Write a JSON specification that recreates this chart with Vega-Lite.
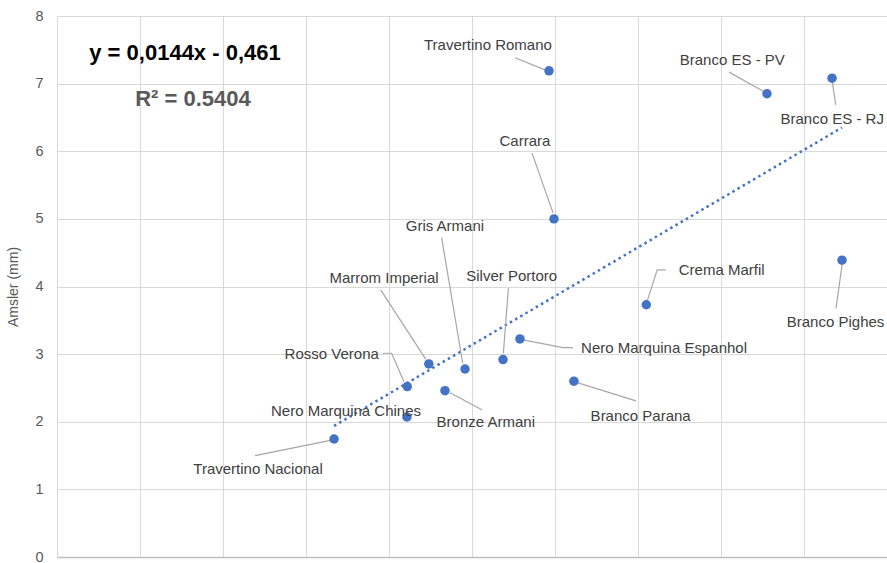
{
  "$schema": "https://vega.github.io/schema/vega-lite/v6.json",
  "width": 830,
  "height": 541,
  "autosize": "none",
  "padding": {"left": 57, "top": 16, "right": 0, "bottom": 6},
  "background": "white",
  "config": {"view": {"stroke": null}},
  "datasets": {
    "pts": [
      {"name": "Travertino Nacional", "x": 166.9, "y": 1.745},
      {"name": "Nero Marquina Chines", "x": 210.8, "y": 2.07},
      {"name": "Rosso Verona", "x": 211.0, "y": 2.52},
      {"name": "Marrom Imperial", "x": 224.0, "y": 2.855},
      {"name": "Bronze Armani", "x": 233.7, "y": 2.46},
      {"name": "Gris Armani", "x": 245.8, "y": 2.78},
      {"name": "Silver Portoro", "x": 268.7, "y": 2.92},
      {"name": "Nero Marquina Espanhol", "x": 278.9, "y": 3.225},
      {"name": "Branco Parana", "x": 311.4, "y": 2.6},
      {"name": "Carrara", "x": 299.4, "y": 5.0},
      {"name": "Travertino Romano", "x": 296.4, "y": 7.19},
      {"name": "Crema Marfil", "x": 355.0, "y": 3.73},
      {"name": "Branco ES - PV", "x": 427.7, "y": 6.85},
      {"name": "Branco ES - RJ", "x": 466.9, "y": 7.08},
      {"name": "Branco Pighes", "x": 472.9, "y": 4.39}
    ],
    "labels": [
      {"name": "Travertino Nacional", "x": 121.1, "y": 1.302},
      {"name": "Nero Marquina Chines", "x": 174.1, "y": 2.16},
      {"name": "Rosso Verona", "x": 165.5, "y": 3.003},
      {"name": "Marrom Imperial", "x": 197.0, "y": 4.127},
      {"name": "Bronze Armani", "x": 258.3, "y": 1.993},
      {"name": "Gris Armani", "x": 233.7, "y": 4.901},
      {"name": "Silver Portoro", "x": 273.9, "y": 4.157},
      {"name": "Nero Marquina Espanhol", "x": 365.7, "y": 3.092},
      {"name": "Branco Parana", "x": 351.6, "y": 2.09},
      {"name": "Carrara", "x": 281.9, "y": 6.154},
      {"name": "Travertino Romano", "x": 259.6, "y": 7.574},
      {"name": "Crema Marfil", "x": 400.4, "y": 4.246},
      {"name": "Branco ES - PV", "x": 406.8, "y": 7.342},
      {"name": "Branco ES - RJ", "x": 467.0, "y": 6.479},
      {"name": "Branco Pighes", "x": 469.0, "y": 3.472}
    ],
    "leaders": [
      {"name": "Travertino Nacional", "ord": 1, "x": 166.3, "y": 1.731},
      {"name": "Travertino Nacional", "ord": 2, "x": 119.3, "y": 1.499},
      {"name": "Rosso Verona", "ord": 1, "x": 196.2, "y": 3.013},
      {"name": "Rosso Verona", "ord": 2, "x": 201.6, "y": 3.013},
      {"name": "Rosso Verona", "ord": 3, "x": 209.0, "y": 2.593},
      {"name": "Marrom Imperial", "ord": 1, "x": 195.0, "y": 3.95},
      {"name": "Marrom Imperial", "ord": 2, "x": 222.1, "y": 2.925},
      {"name": "Gris Armani", "ord": 1, "x": 231.7, "y": 4.723},
      {"name": "Gris Armani", "ord": 2, "x": 244.4, "y": 2.865},
      {"name": "Silver Portoro", "ord": 1, "x": 271.9, "y": 3.975},
      {"name": "Silver Portoro", "ord": 2, "x": 268.9, "y": 3.013},
      {"name": "Nero Marquina Espanhol", "ord": 1, "x": 280.7, "y": 3.21},
      {"name": "Nero Marquina Espanhol", "ord": 2, "x": 304.8, "y": 3.096},
      {"name": "Nero Marquina Espanhol", "ord": 3, "x": 310.8, "y": 3.096},
      {"name": "Bronze Armani", "ord": 1, "x": 236.7, "y": 2.43},
      {"name": "Bronze Armani", "ord": 2, "x": 256.2, "y": 2.175},
      {"name": "Branco Parana", "ord": 1, "x": 313.9, "y": 2.574},
      {"name": "Branco Parana", "ord": 2, "x": 348.8, "y": 2.308},
      {"name": "Carrara", "ord": 1, "x": 286.1, "y": 5.976},
      {"name": "Carrara", "ord": 2, "x": 298.8, "y": 5.089},
      {"name": "Travertino Romano", "ord": 1, "x": 275.9, "y": 7.382},
      {"name": "Travertino Romano", "ord": 2, "x": 294.0, "y": 7.204},
      {"name": "Crema Marfil", "ord": 1, "x": 366.7, "y": 4.246},
      {"name": "Crema Marfil", "ord": 2, "x": 361.6, "y": 4.246},
      {"name": "Crema Marfil", "ord": 3, "x": 355.6, "y": 3.791},
      {"name": "Branco ES - PV", "ord": 1, "x": 404.8, "y": 7.17},
      {"name": "Branco ES - PV", "ord": 2, "x": 426.5, "y": 6.874},
      {"name": "Branco ES - RJ", "ord": 1, "x": 466.9, "y": 7.056},
      {"name": "Branco ES - RJ", "ord": 2, "x": 469.1, "y": 6.686},
      {"name": "Branco Pighes", "ord": 1, "x": 473.2, "y": 4.368},
      {"name": "Branco Pighes", "ord": 2, "x": 469.3, "y": 3.679}
    ],
    "eq": [
      {"text": "y = 0,0144x - 0,461", "x": 77.1, "y": 7.456, "kind": "eq"},
      {"text": "R² = 0.5404", "x": 81.9, "y": 6.775, "kind": "r2"}
    ]
  },
  "encoding": {
    "x": {"field": "x", "type": "quantitative", "scale": {"domain": [0, 500], "nice": false},
      "axis": {"values": [0, 50, 100, 150, 200, 250, 300, 350, 400, 450, 500], "labels": false, "ticks": false, "title": null,
        "grid": true, "gridColor": "#d9d9d9", "gridWidth": 1, "domain": true, "domainColor": "#bfbfbf", "domainWidth": 1.5}},
    "y": {"field": "y", "type": "quantitative", "scale": {"domain": [0, 8], "nice": false},
      "axis": {"values": [0, 1, 2, 3, 4, 5, 6, 7, 8], "ticks": false, "domain": false, "grid": true, "gridColor": "#d9d9d9", "gridWidth": 1,
        "labelColor": "#595959", "labelFont": "Liberation Sans", "labelFontSize": 14.5, "labelPadding": 14,
        "title": "Amsler (mm)", "titleColor": "#595959", "titleFont": "Liberation Sans", "titleFontSize": 14, "titleFontWeight": "normal", "titlePadding": 14}}
  },
  "layer": [
    {
      "data": {"name": "pts"},
      "transform": [{"regression": "y", "on": "x"}],
      "mark": {"type": "line", "color": "#4472C4", "strokeWidth": 2.5, "strokeDash": [2.5, 3.5]}
    },
    {
      "data": {"name": "leaders"},
      "mark": {"type": "line", "color": "#a6a6a6", "strokeWidth": 1.2},
      "encoding": {
        "detail": {"field": "name"},
        "order": {"field": "ord"}
      }
    },
    {
      "data": {"name": "pts"},
      "mark": {"type": "circle", "color": "#4472C4", "opacity": 1, "size": 90}
    },
    {
      "data": {"name": "labels"},
      "mark": {"type": "text", "font": "Liberation Sans", "fontSize": 15, "color": "#404040", "align": "center", "baseline": "middle"},
      "encoding": {
        "text": {"field": "name"}
      }
    },
    {
      "data": {"name": "eq"},
      "mark": {"type": "text", "font": "Liberation Sans", "fontSize": 22, "fontWeight": "bold", "align": "center", "baseline": "middle"},
      "encoding": {
        "text": {"field": "text"},
        "color": {"field": "kind", "type": "nominal", "scale": {"domain": ["eq", "r2"], "range": ["#000000", "#595959"]}, "legend": null}
      }
    }
  ]
}
